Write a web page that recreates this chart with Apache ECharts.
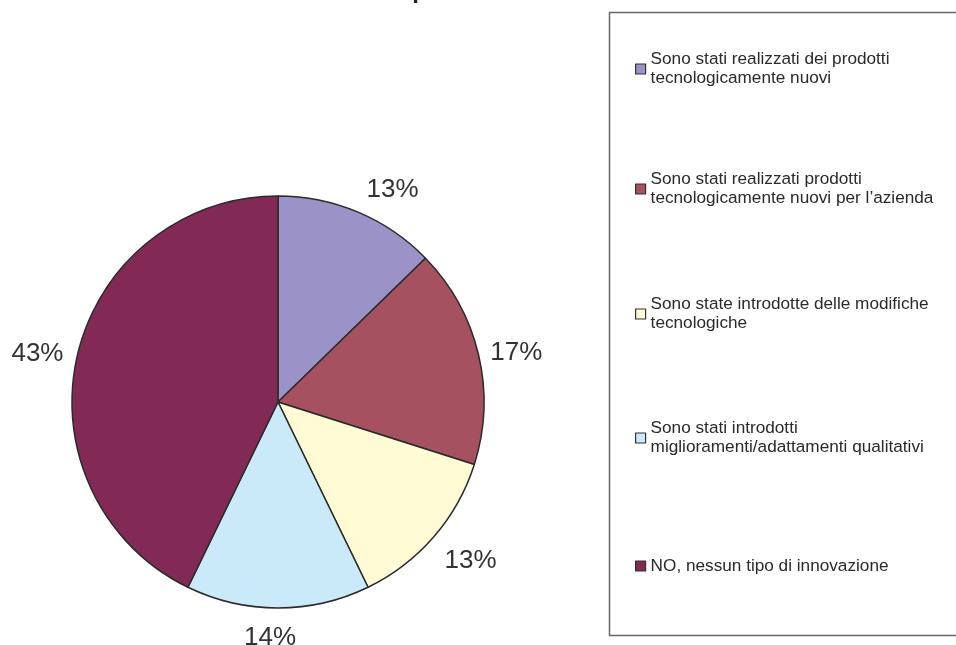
<!DOCTYPE html>
<html>
<head>
<meta charset="utf-8">
<script src="https://cdn.jsdelivr.net/npm/echarts@6/dist/echarts.min.js"></script>
<style>
html,body{margin:0;padding:0;background:#fff;}
#chart{width:956px;height:645px;}
</style>
</head>
<body>
<div id="chart"></div>
<script>
const titleText = 'Innovazione di prodotto';
const categories = [
  'Sono stati realizzati dei prodotti\ntecnologicamente nuovi',
  'Sono stati realizzati prodotti\ntecnologicamente nuovi per l\u2019azienda',
  'Sono state introdotte delle modifiche\ntecnologiche',
  'Sono stati introdotti\nmiglioramenti/adattamenti qualitativi',
  'NO, nessun tipo di innovazione'
];
const values = [12.7, 17.2, 12.9, 14.4, 42.8];
const colors = ['#9B93C7', '#A5515F', '#FFFBD5', '#CAE9F9', '#822A55'];

const legendCenters = [69, 189, 314, 438, 566];
const labelNudges = [[0, -14], [-2, 0], [-1, 18], [-39, 21], [0, 0]];

const chart = echarts.init(document.getElementById('chart'));
const LH = 19;
const legends = categories.map((name, i) => {
  const lines = name.split('\n').length;
  const pad = lines > 1 ? LH * (lines - 1) : 0;
  const blockH = pad + LH * lines;
  return {
    data: [name],
    orient: 'vertical',
    left: 635,
    top: legendCenters[i] - blockH / 2,
    padding: 0,
    icon: 'rect',
    itemWidth: 10,
    itemHeight: 10,
    itemGap: 0,
    selectedMode: false,
    itemStyle: { borderColor: '#333', borderWidth: 1.2 },
    textStyle: {
      fontFamily: 'Liberation Sans, Arial, sans-serif',
      fontSize: 17.2,
      color: '#2a2a2a',
      lineHeight: LH,
      padding: [pad, 0, 0, 0]
    }
  };
});

chart.setOption({
  animation: false,
  backgroundColor: '#fff',
  title: {
    text: titleText,
    left: 370,
    textAlign: 'center',
    top: -26,
    textStyle: {
      fontFamily: 'Liberation Sans, Arial, sans-serif',
      fontSize: 24,
      fontWeight: 'bold',
      color: '#222'
    }
  },
  graphic: [{
    type: 'rect',
    shape: { x: 609.5, y: 12.5, width: 400, height: 623 },
    style: { fill: 'none', stroke: '#666', lineWidth: 1.5 },
    z: -1
  }],
  legend: legends,
  color: colors,
  series: [{
    type: 'pie',
    center: [278, 402],
    radius: 206,
    startAngle: 90,
    clockwise: true,
    avoidLabelOverlap: false,
    itemStyle: { borderColor: '#2b2b2b', borderWidth: 1.5 },
    label: {
      show: true,
      position: 'outside',
      distanceToLabelLine: 5,
      fontFamily: 'Liberation Sans, Arial, sans-serif',
      fontSize: 26,
      color: '#333',
      formatter: p => Math.round(p.percent) + '%'
    },
    labelLine: { show: false, length: 9, length2: 0 },
    labelLayout: p => ({ dx: labelNudges[p.dataIndex][0], dy: labelNudges[p.dataIndex][1] }),
    emphasis: { disabled: true },
    data: categories.map((c, i) => ({ name: c, value: values[i] }))
  }]
});
</script>
</body>
</html>
